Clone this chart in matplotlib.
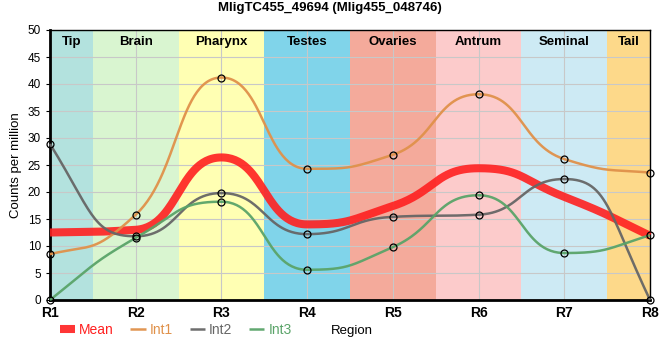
import matplotlib

matplotlib.use("Agg")
import matplotlib.pyplot as plt
import numpy as np

plt.rcParams["font.family"] = ["Liberation Sans", "DejaVu Sans"]

regions = ["R1", "R2", "R3", "R4", "R5", "R6", "R7", "R8"]
tissues = ["Tip", "Brain", "Pharynx", "Testes", "Ovaries", "Antrum", "Seminal", "Tail"]
tissue_colors = ["#b3e2de", "#d9f5d0", "#ffffb3", "#80d4ea", "#f4aa9b", "#fccbcb", "#cdeaf4", "#fdd98a"]

mean = [12.5, 13.0, 26.4, 14.0, 17.4, 24.4, 19.1, 11.9]
int1 = [8.5, 15.8, 41.2, 24.3, 26.9, 38.1, 26.1, 23.6]
int2 = [28.9, 11.8, 19.8, 12.2, 15.4, 15.8, 22.4, 0.0]
int3 = [0.0, 11.5, 18.2, 5.6, 9.8, 19.4, 8.7, 12.0]

series = [("Mean", mean, "#ff2020", 5.8), ("Int1", int1, "#e0914a", 1.8),
          ("Int2", int2, "#666666", 1.8), ("Int3", int3, "#5aa469", 1.8)]


def smooth_curve(y, n=60, reach=0.5):
    """Bezier segments through the points with monotone tangents (unit x spacing)."""
    y = np.asarray(y, dtype=float)
    s = np.diff(y)
    t = np.zeros_like(y)
    for i in range(1, len(y) - 1):
        s0, s1 = s[i - 1], s[i]
        p = (s0 + s1) / 2
        t[i] = (np.sign(s0) + np.sign(s1)) * min(abs(s0), abs(s1), 0.5 * abs(p))
    t[0] = (3 * s[0] - t[1]) / 2
    t[-1] = (3 * s[-1] - t[-2]) / 2
    u = np.linspace(0, 1, n)[:, None]
    xs, ys = [], []
    for i in range(len(y) - 1):
        p0 = np.array([i, y[i]])
        p1 = np.array([i + reach, y[i] + reach * t[i]])
        p2 = np.array([i + 1 - reach, y[i + 1] - reach * t[i + 1]])
        p3 = np.array([i + 1, y[i + 1]])
        b = (1 - u) ** 3 * p0 + 3 * (1 - u) ** 2 * u * p1 + 3 * (1 - u) * u ** 2 * p2 + u ** 3 * p3
        xs.append(b[:, 0])
        ys.append(b[:, 1])
    return np.concatenate(xs), np.concatenate(ys)


fig = plt.figure(figsize=(6.6, 3.6), dpi=100)
ax = fig.add_axes([50 / 660, 60 / 360, 600 / 660, 270 / 360])

x = np.arange(len(regions))
last = len(regions) - 1
for i, (name, col) in enumerate(zip(tissues, tissue_colors)):
    lo, hi = max(i - 0.5, 0), min(i + 0.5, last)
    ax.axvspan(lo, hi, color=col, lw=0, zorder=0)
    ax.text((lo + hi) / 2, 48.9, name, ha="center", va="top", fontsize=9.5, fontweight="bold", zorder=5)

ax.set_xlim(0, last)
ax.set_ylim(0, 50)
ax.set_xticks(x)
ax.set_xticklabels(regions, fontsize=10, fontweight="bold")
ax.set_yticks(np.arange(0, 51, 5))
ax.tick_params(axis="y", labelsize=8.5, length=3)
ax.tick_params(axis="x", length=0, pad=4)
ax.grid(color="#c8c8c8", lw=0.8, zorder=1)
ax.set_axisbelow(True)
for side in ["left", "bottom"]:
    ax.spines[side].set_linewidth(2)
for side in ["top", "right"]:
    ax.spines[side].set_linewidth(1)

handles = []
for name, vals, col, lw in series:
    cx, cy = smooth_curve(vals)
    alpha = 0.9 if name == "Mean" else 0.95
    h, = ax.plot(cx, cy, color=col, lw=lw, alpha=alpha, solid_capstyle="butt", zorder=3, label=name,
                 clip_on=False)
    handles.append(h)
    if name != "Mean":
        ax.plot(x, vals, "o", ms=5, mfc="none", mec="black", mew=0.9, zorder=4, clip_on=False)

ax.set_ylabel("Counts per million", fontsize=9.5, labelpad=4)
fig.suptitle("MligTC455_49694 (Mlig455_048746)", fontsize=9.5, fontweight="bold", y=0.995)

leg = fig.legend(handles=handles, loc="center left", bbox_to_anchor=(54 / 660, 1 - 330 / 360), ncol=4,
                 frameon=False, fontsize=10, handlelength=1.1, handletextpad=0.3, columnspacing=1.2,
                 labelcolor="linecolor", borderaxespad=0)
fig.text(352 / 660, 1 - 331 / 360, "Region", ha="center", va="center", fontsize=9.5)

fig.savefig("out.png", dpi=100)
